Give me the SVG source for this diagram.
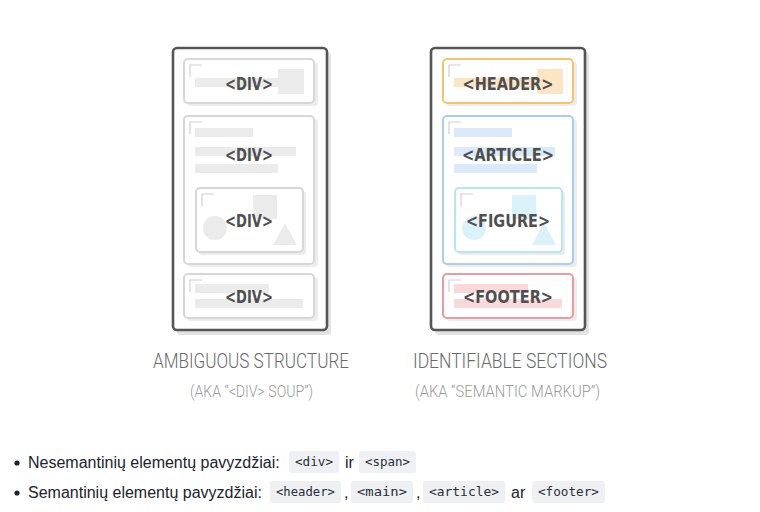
<svg xmlns="http://www.w3.org/2000/svg" width="760" height="512" viewBox="0 0 760 512">
<style>
.panel{fill:#fff;stroke:#555;stroke-width:2.6}
.pshadow{fill:#e3e3e3}
.bshadow{fill:#ececec}
.box{fill:#fff;stroke-width:2}
.g{stroke:#d7d7d7}
.hd{stroke:#f2c46c}
.ar{stroke:#a8cdf3}
.fg{stroke:#b6e5f6}
.ft{stroke:#eb9a9f}
.corner{fill:none;stroke:#d0d0d0;stroke-width:1.2}
.gf{fill:#ebebec}
.hf{fill:#fbe5c3}
.af{fill:#dbeafb}
.ff{fill:#dcf2fa}
.tf{fill:#fbd8da}
.lbl{font-family:"DejaVu Sans Condensed","DejaVu Sans",sans-serif;font-weight:bold;font-size:18px;fill:#4f4f4f;text-anchor:middle}
.cap{font-family:"Roboto","Open Sans",sans-serif;font-weight:300;font-size:21px;fill:#6a6a6a}
.sub{font-family:"Roboto","Open Sans",sans-serif;font-weight:300;font-size:16px;fill:#9a9a9a}
.txt{font-family:"Liberation Sans",Arial,sans-serif;font-size:16px;fill:#1c2230}
.chip{fill:#eef0f3}
.code{font-family:"DejaVu Sans Mono","Liberation Mono",monospace;font-size:12.5px;fill:#2a2f38}
</style>
<rect width="760" height="512" fill="#fff"/>

<g id="panel-left">
  <rect class="pshadow" x="177" y="52" width="154" height="283" rx="4"/>
  <rect class="panel" x="173" y="48" width="154" height="282" rx="4"/>
</g>
<g id="div-1">
  <rect class="bshadow" x="187" y="62" width="131" height="44" rx="4"/>
  <rect class="box g" x="184" y="59" width="130" height="44" rx="4"/>
  <path class="corner" d="M190,77 V65 H202"/>
  <rect class="gf" x="195" y="78" width="84" height="9"/>
  <rect class="gf" x="278" y="69" width="26" height="25"/>
  <text class="lbl" x="249" y="90" textLength="48" lengthAdjust="spacingAndGlyphs">&lt;DIV&gt;</text>
</g>
<g id="div-2">
  <rect class="bshadow" x="187" y="119" width="131" height="148" rx="4"/>
  <rect class="box g" x="184" y="116" width="130" height="148" rx="4"/>
  <path class="corner" d="M190,134 V122 H202"/>
  <rect class="gf" x="195" y="128" width="58" height="9"/>
  <rect class="gf" x="195" y="147" width="101" height="9"/>
  <rect class="gf" x="195" y="164" width="83" height="9"/>
  <text class="lbl" x="249" y="161" textLength="48" lengthAdjust="spacingAndGlyphs">&lt;DIV&gt;</text>
</g>
<g id="div-3">
  <rect class="bshadow" x="199" y="191" width="107" height="64" rx="4"/>
  <rect class="box g" x="196" y="188" width="107" height="64" rx="4"/>
  <path class="corner" d="M202,206 V194 H214"/>
  <circle class="gf" cx="215" cy="228" r="12"/>
  <rect class="gf" x="253" y="195" width="24" height="24"/>
  <polygon class="gf" points="285,223 297,245 273,245"/>
  <text class="lbl" x="249" y="227" textLength="48" lengthAdjust="spacingAndGlyphs">&lt;DIV&gt;</text>
</g>
<g id="div-4">
  <rect class="bshadow" x="187" y="277" width="131" height="44" rx="4"/>
  <rect class="box g" x="184" y="274" width="130" height="44" rx="4"/>
  <path class="corner" d="M190,292 V280 H202"/>
  <rect class="gf" x="195" y="284" width="74" height="9"/>
  <rect class="gf" x="195" y="299" width="108" height="9"/>
  <text class="lbl" x="249" y="303" textLength="48" lengthAdjust="spacingAndGlyphs">&lt;DIV&gt;</text>
</g>

<g id="panel-right">
  <rect class="pshadow" x="435" y="52" width="154" height="283" rx="4"/>
  <rect class="panel" x="431" y="48" width="154" height="282" rx="4"/>
</g>
<g id="header">
  <rect class="bshadow" x="446" y="62" width="131" height="44" rx="4"/>
  <rect class="box hd" x="443" y="59" width="130" height="44" rx="4"/>
  <path class="corner" d="M449,77 V65 H461"/>
  <rect class="hf" x="454" y="78" width="84" height="9"/>
  <rect class="hf" x="537" y="69" width="26" height="25"/>
  <text class="lbl" x="508" y="90" textLength="91" lengthAdjust="spacingAndGlyphs">&lt;HEADER&gt;</text>
</g>
<g id="article">
  <rect class="bshadow" x="446" y="119" width="131" height="148" rx="4"/>
  <rect class="box ar" x="443" y="116" width="130" height="148" rx="4"/>
  <path class="corner" d="M449,134 V122 H461"/>
  <rect class="af" x="454" y="128" width="58" height="9"/>
  <rect class="af" x="454" y="147" width="101" height="9"/>
  <rect class="af" x="454" y="164" width="83" height="9"/>
  <text class="lbl" x="508" y="161" textLength="92" lengthAdjust="spacingAndGlyphs">&lt;ARTICLE&gt;</text>
</g>
<g id="figure">
  <rect class="bshadow" x="458" y="191" width="107" height="64" rx="4"/>
  <rect class="box fg" x="455" y="188" width="107" height="64" rx="4"/>
  <path class="corner" d="M461,206 V194 H473"/>
  <circle class="ff" cx="474" cy="228" r="12"/>
  <rect class="ff" x="512" y="195" width="24" height="24"/>
  <polygon class="ff" points="544,223 556,245 532,245"/>
  <text class="lbl" x="508" y="227" textLength="84" lengthAdjust="spacingAndGlyphs">&lt;FIGURE&gt;</text>
</g>
<g id="footer">
  <rect class="bshadow" x="446" y="277" width="131" height="44" rx="4"/>
  <rect class="box ft" x="443" y="274" width="130" height="44" rx="4"/>
  <path class="corner" d="M449,292 V280 H461"/>
  <rect class="tf" x="454" y="284" width="74" height="9"/>
  <rect class="tf" x="454" y="299" width="108" height="9"/>
  <text class="lbl" x="508" y="303" textLength="90" lengthAdjust="spacingAndGlyphs">&lt;FOOTER&gt;</text>
</g>

<g id="connectors"></g>

<g id="captions">
  <text class="cap" x="153" y="368" textLength="196" lengthAdjust="spacingAndGlyphs">AMBIGUOUS STRUCTURE</text>
  <text class="sub" x="190" y="397" textLength="123" lengthAdjust="spacingAndGlyphs">(AKA “&lt;DIV&gt; SOUP”)</text>
  <text class="cap" x="413" y="368" textLength="194" lengthAdjust="spacingAndGlyphs">IDENTIFIABLE SECTIONS</text>
  <text class="sub" x="415" y="397" textLength="185" lengthAdjust="spacingAndGlyphs">(AKA “SEMANTIC MARKUP”)</text>
</g>

<g id="list">
  <circle cx="17" cy="463" r="2.6" fill="#1c2230"/>
  <text class="txt" x="28" y="468">Nesemantinių elementų pavyzdžiai:</text>
  <rect class="chip" x="289" y="451" width="50" height="22" rx="3"/>
  <text class="code" x="295" y="466" textLength="38" lengthAdjust="spacingAndGlyphs">&lt;div&gt;</text>
  <text class="txt" x="345" y="468">ir</text>
  <rect class="chip" x="359" y="451" width="57" height="22" rx="3"/>
  <text class="code" x="365" y="466" textLength="45" lengthAdjust="spacingAndGlyphs">&lt;span&gt;</text>

  <circle cx="17" cy="493" r="2.6" fill="#1c2230"/>
  <text class="txt" x="28" y="498">Semantinių elementų pavyzdžiai:</text>
  <rect class="chip" x="270" y="481" width="71" height="22" rx="3"/>
  <text class="code" x="276" y="496" textLength="59" lengthAdjust="spacingAndGlyphs">&lt;header&gt;</text>
  <text class="txt" x="344" y="498">,</text>
  <rect class="chip" x="351" y="481" width="62" height="22" rx="3"/>
  <text class="code" x="357" y="496" textLength="50" lengthAdjust="spacingAndGlyphs">&lt;main&gt;</text>
  <text class="txt" x="416" y="498">,</text>
  <rect class="chip" x="423" y="481" width="82" height="22" rx="3"/>
  <text class="code" x="429" y="496" textLength="70" lengthAdjust="spacingAndGlyphs">&lt;article&gt;</text>
  <text class="txt" x="511" y="498">ar</text>
  <rect class="chip" x="532" y="481" width="73" height="22" rx="3"/>
  <text class="code" x="538" y="496" textLength="61" lengthAdjust="spacingAndGlyphs">&lt;footer&gt;</text>
</g>
</svg>
